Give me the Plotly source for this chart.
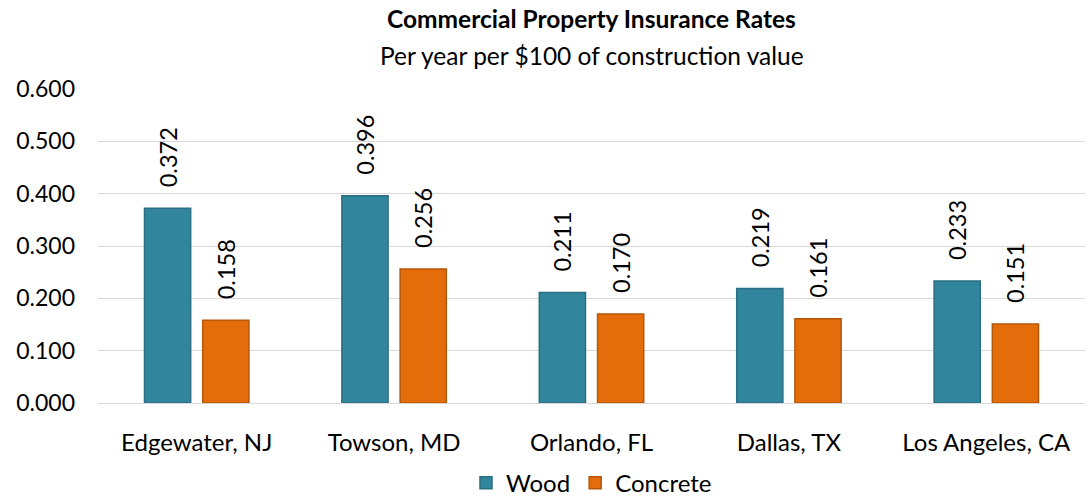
import plotly.graph_objects as go

cities = ["Edgewater, NJ", "Towson, MD", "Orlando, FL", "Dallas, TX", "Los Angeles, CA"]
wood = [0.372, 0.396, 0.211, 0.219, 0.233]
concrete = [0.158, 0.256, 0.170, 0.161, 0.151]
y_ticks = [0.0, 0.1, 0.2, 0.3, 0.4, 0.5, 0.6]

FONT = "Lato"
PAD = "\u00a0\u00a0\u00a0"

fig = go.Figure()
fig.add_trace(go.Bar(
    name="Wood", x=cities, y=wood,
    marker=dict(color="#31859C", line=dict(color="#2A6F82", width=1.5)),
    text=[PAD + f"{v:.3f}" for v in wood], textposition="outside", textangle=-90,
    constraintext="none",
    textfont=dict(size=23.5, color="#000000", family=FONT), cliponaxis=False,
))
fig.add_trace(go.Bar(
    name="Concrete", x=cities, y=concrete,
    marker=dict(color="#E46C0A", line=dict(color="#B65608", width=1.5)),
    text=[PAD + f"{v:.3f}" for v in concrete], textposition="outside", textangle=-90,
    constraintext="none",
    textfont=dict(size=23.5, color="#000000", family=FONT), cliponaxis=False,
))

fig.update_layout(
    width=1091, height=497,
    margin=dict(l=98, r=6, t=89, b=94, autoexpand=False),
    paper_bgcolor="white", plot_bgcolor="white",
    font=dict(family=FONT, size=24, color="#000000"),
    barmode="group", bargap=0.41, bargroupgap=0.207,
    legend=dict(orientation="h", x=0.5, xanchor="center", y=-0.255, yanchor="middle",
                font=dict(size=24), itemwidth=30, traceorder="normal"),
    annotations=[
        dict(text="<b>Commercial Property Insurance Rates</b>", x=0.5, xref="paper",
             y=1.226, yref="paper", yanchor="middle", xanchor="center",
             showarrow=False, font=dict(size=24.5, family=FONT)),
        dict(text="Per year per $100 of construction value", x=0.5, xref="paper",
             y=1.108, yref="paper", yanchor="middle", xanchor="center",
             showarrow=False, font=dict(size=24.5, family=FONT)),
    ],
)
fig.update_yaxes(range=[0, 0.6], tickvals=y_ticks, tickformat=".3f",
                 showgrid=True, gridcolor="#D9D9D9", gridwidth=1.3, zeroline=False,
                 showline=False, ticklabelstandoff=22, tickfont=dict(size=23))
fig.update_xaxes(showline=True, linecolor="#D9D9D9", linewidth=1.3, ticks="",
                 ticklabelstandoff=18, tickfont=dict(size=24))

fig.write_html("out.html", config={"displayModeBar": False},
               post_script="document.body.style.margin='0';")
